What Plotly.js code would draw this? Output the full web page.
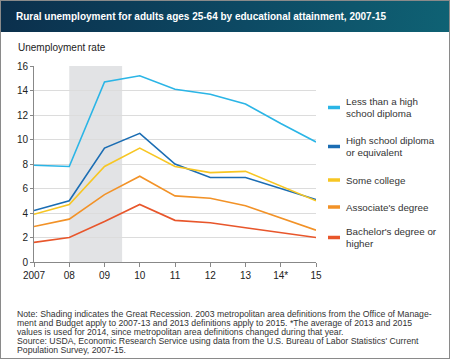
<!DOCTYPE html>
<html>
<head>
<meta charset="utf-8">
<script src="https://cdn.plot.ly/plotly-3.0.1.min.js"></script>
<style>
html,body{margin:0;padding:0;background:#fff;}
#wrap{position:relative;width:450px;height:359px;overflow:hidden;}
#banner{position:absolute;left:0;top:0;width:450px;height:32px;background:linear-gradient(100deg,#0b2f4c 0%,#0d4a64 55%,#0f6274 100%);}
#frame{position:absolute;left:0;top:0;width:448px;height:357px;border:1px solid #8a8a8a;pointer-events:none;}
#chart{position:absolute;left:0;top:0;width:450px;height:359px;}
</style>
</head>
<body>
<div id="wrap">
<div id="banner"></div>
<div id="chart"></div>
<div id="frame"></div>
</div>
<script>
const years = [2007, 2008, 2009, 2010, 2011, 2012, 2013, 2014, 2015];
const tickLabels = ["2007", "08", "09", "10", "11", "12", "13", "14*", "15"];
const lessThanHS = [7.9, 7.8, 14.7, 15.2, 14.1, 13.7, 12.9, 11.3, 9.8];
const hsDiploma = [4.2, 5.0, 9.3, 10.5, 8.0, 6.9, 6.9, 6.0, 5.1];
const someCollege = [3.9, 4.7, 7.8, 9.3, 7.8, 7.3, 7.4, 6.2, 5.0];
const associates = [2.9, 3.5, 5.5, 7.0, 5.4, 5.2, 4.6, 3.6, 2.6];
const bachelors = [1.6, 2.0, 3.3, 4.7, 3.4, 3.2, 2.8, 2.4, 2.0];
const seriesNames = [["Less than a high", "school diploma"], ["High school diploma", "or equivalent"], ["Some college"], ["Associate's degree"], ["Bachelor's degree or", "higher"]];
const seriesColors = ["#2bb5e6", "#1b6db3", "#f7c623", "#f29227", "#e8562b"];
const recession = [2008, 2009.5];
const noteLines = [
  "Note: Shading indicates the Great Recession. 2003 metropolitan area definitions from the Office of Manage-",
  "ment and Budget apply to 2007-13 and 2013 definitions apply to 2015. *The average of 2013 and 2015",
  "values is used for 2014, since metropolitan area definitions changed during that year.",
  "Source: USDA, Economic Research Service using data from the U.S. Bureau of Labor Statistics' Current",
  "Population Survey, 2007-15."
];

const FONT = 'Liberation Sans, Arial, sans-serif';
const seriesData = [lessThanHS, hsDiploma, someCollege, associates, bachelors];
const traces = seriesData.map((v, i) => ({
  x: years, y: v, type: 'scatter', mode: 'lines', name: seriesNames[i].join(' '),
  line: {color: seriesColors[i], width: 1.6}, showlegend: false, hoverinfo: 'skip'
}));

const W = 450, H = 359, L = 34, T = 66, PW = 282, PH = 196, B = 97;
const px = x => (x - L) / PW;
const py = y => (H - y - B) / PH;
const legendY = [107.5, 146.5, 180, 207, 237.5];
const shapes = [{
  type: 'rect', xref: 'x', yref: 'y', x0: recession[0], x1: recession[1], y0: 0, y1: 16,
  fillcolor: '#e2e3e5', line: {width: 0}, layer: 'below'
}];
const annotations = [
  {xref: 'paper', yref: 'paper', x: px(16), y: py(47), xanchor: 'left', yanchor: 'middle',
   text: 'Unemployment rate', showarrow: false, font: {family: FONT, size: 10, color: '#222'}}
];
noteLines.forEach((t, i) => {
  annotations.push({xref: 'paper', yref: 'paper', x: px(15), y: py(313.6 + i * 9.0), xanchor: 'left', yanchor: 'middle',
    text: t, showarrow: false, font: {family: FONT, size: 8.7, color: '#333'}});
});
seriesNames.forEach((n, i) => {
  const cy = legendY[i];
  shapes.push({type: 'line', xref: 'paper', yref: 'paper', x0: px(328), x1: px(340), y0: py(cy), y1: py(cy),
    line: {color: seriesColors[i], width: 3.5}});
  const offs = n.length === 1 ? [0] : [-6.1, 6.1];
  n.forEach((line, j) => {
    annotations.push({xref: 'paper', yref: 'paper', x: px(344), y: py(cy + offs[j]), xanchor: 'left', yanchor: 'middle',
      text: line, showarrow: false, font: {family: FONT, size: 9.8, color: '#333'}});
  });
});

const layout = {
  width: W, height: H,
  margin: {l: L, r: W - L - PW, t: T, b: B},
  paper_bgcolor: 'rgba(0,0,0,0)', plot_bgcolor: 'rgba(0,0,0,0)',
  title: {text: '<b>Rural unemployment for adults ages 25-64 by educational attainment, 2007-15</b>',
    x: 16 / W, xanchor: 'left', xref: 'container', y: 1 - 16 / H, yanchor: 'middle', yref: 'container',
    font: {family: FONT, size: 10, color: '#ffffff'}},
  xaxis: {range: [2007, 2015], tickvals: years, ticktext: tickLabels, showgrid: false, zeroline: false,
    showline: true, linecolor: '#888', linewidth: 1, ticks: 'outside', ticklen: 4, tickcolor: '#888',
    tickfont: {family: FONT, size: 10, color: '#222'}},
  yaxis: {range: [0, 16], dtick: 2, showgrid: true, gridcolor: '#dcdcdc', zeroline: false,
    showline: true, linecolor: '#888', linewidth: 1, ticks: 'outside', ticklen: 3, tickcolor: '#888',
    tickfont: {family: FONT, size: 10, color: '#222'}},
  shapes: shapes, annotations: annotations, showlegend: false
};
Plotly.newPlot('chart', traces, layout, {displayModeBar: false, staticPlot: true});
</script>
</body>
</html>
